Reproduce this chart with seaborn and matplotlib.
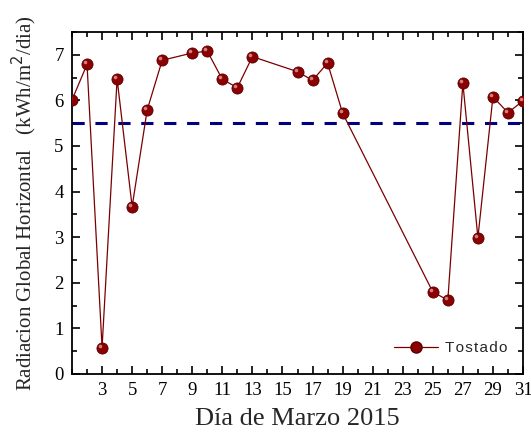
import matplotlib
matplotlib.use("Agg")
import matplotlib.pyplot as plt
import matplotlib.transforms as mtransforms
from matplotlib.ticker import MultipleLocator
from matplotlib.lines import Line2D
import seaborn as sns
import pandas as pd

days = [1, 2, 3, 4, 5, 6, 7, 9, 10, 11, 12, 13, 16, 17, 18, 19, 25, 26, 27, 28, 29, 30, 31]
radiation = [6.01, 6.79, 0.58, 6.47, 3.67, 5.79, 6.88, 7.04, 7.08, 6.46, 6.28, 6.96,
             6.63, 6.44, 6.82, 5.72, 1.80, 1.62, 6.38, 2.99, 6.08, 5.73, 5.99]
reference_level = 5.5
series_name = "Tostado"
xticks = list(range(3, 32, 2))

df = pd.DataFrame({"day": days, "rad": radiation})

sns.set_style("ticks")
plt.rcParams["font.family"] = ["Liberation Serif", "DejaVu Serif"]

fig = plt.figure(figsize=(5.31, 4.38), dpi=100)
ax = fig.add_axes([72 / 531, (438 - 374) / 438, (523 - 72) / 531, (374 - 32) / 438])

red = "#7a0000"
msize = 8
sns.lineplot(data=df, x="day", y="rad", ax=ax, color=red, lw=0.9,
             marker="o", markersize=msize, markeredgecolor="#5a0000",
             markeredgewidth=0.6, markerfacecolor="#8b0000", zorder=3)
# sphere highlight
hl = mtransforms.offset_copy(ax.transData, fig=fig, x=-1.4, y=1.4, units="points")
ax.plot(df["day"], df["rad"], ls="none", marker="o", markersize=2.6,
        markerfacecolor="#e0a0a0", markeredgewidth=0, transform=hl, zorder=4, alpha=0.8)

ax.axhline(reference_level, color="#000080", lw=2.2, ls=(0, (4, 3.5)), zorder=2)

ax.set_xlim(1, 31)
ax.set_ylim(0, 7.5)
ax.set_xticks(xticks)
ax.xaxis.set_minor_locator(MultipleLocator(1))
ax.yaxis.set_major_locator(MultipleLocator(1))
ax.yaxis.set_minor_locator(MultipleLocator(0.5))
ax.tick_params(which="both", direction="in", top=True, right=True, width=1.2,
               labelsize=13.5, colors="black")
ax.tick_params(which="major", length=6, pad=6)
ax.tick_params(which="minor", length=3.5)
for s in ax.spines.values():
    s.set_linewidth(1.3)
    s.set_color("black")
    s.set_visible(True)

ax.set_xlabel("Día de Marzo 2015", fontsize=19, labelpad=6)
ax.set_ylabel("Radiacion Global Horizontal   (kWh/m$^2$/dia)", fontsize=15, labelpad=11)

handle = Line2D([], [], color=red, lw=0.9, marker="o", markersize=msize,
                markerfacecolor="#8b0000", markeredgecolor="#5a0000")
leg = ax.legend([handle], ["\u200a".join(series_name)], loc="lower right", frameon=False,
                prop={"family": ["Liberation Sans", "DejaVu Sans"], "size": 11},
                handlelength=2.9, handletextpad=0.4, borderaxespad=0,
                bbox_to_anchor=(0.978, 0.037))

fig.savefig("out.png", dpi=100)
